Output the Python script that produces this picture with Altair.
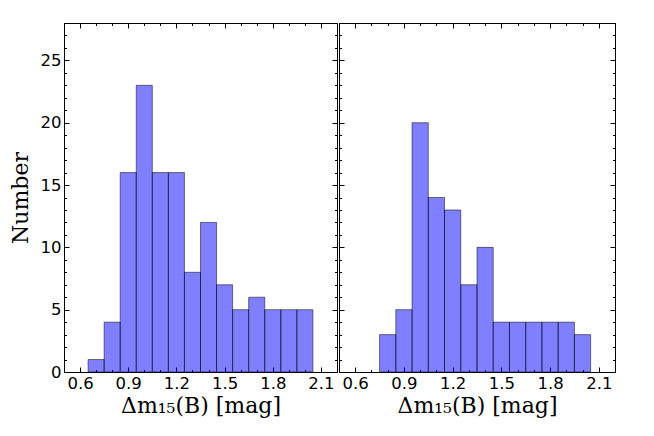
import altair as alt
import pandas as pd

# ---- data ----
left_bin_start = [0.65, 0.75, 0.85, 0.95, 1.05, 1.15, 1.25, 1.35, 1.45, 1.55, 1.65, 1.75, 1.85, 1.95]
left_bin_end = [0.75, 0.85, 0.95, 1.05, 1.15, 1.25, 1.35, 1.45, 1.55, 1.65, 1.75, 1.85, 1.95, 2.05]
left_counts = [1, 4, 16, 23, 16, 16, 8, 12, 7, 5, 6, 5, 5, 5]

right_bin_start = [0.75, 0.85, 0.95, 1.05, 1.15, 1.25, 1.35, 1.45, 1.55, 1.65, 1.75, 1.85, 1.95]
right_bin_end = [0.85, 0.95, 1.05, 1.15, 1.25, 1.35, 1.45, 1.55, 1.65, 1.75, 1.85, 1.95, 2.05]
right_counts = [3, 5, 20, 14, 13, 7, 10, 4, 4, 4, 4, 4, 3]

x_major = [0.6, 0.9, 1.2, 1.5, 1.8, 2.1]
x_minor = [0.5, 0.6, 0.7, 0.8, 0.9, 1.0, 1.1, 1.2, 1.3, 1.4, 1.5, 1.6, 1.7, 1.8, 1.9, 2.0, 2.1, 2.2]
y_major = [0, 5, 10, 15, 20, 25]
y_minor = [0, 1, 2, 3, 4, 5, 6, 7, 8, 9, 10, 11, 12, 13, 14, 15, 16, 17, 18, 19, 20,
           21, 22, 23, 24, 25, 26, 27, 28]
x_domain = [0.5, 2.2]
y_domain = [0, 28]
x_title = "Δm₁₅(B) [mag]"
y_title = "Number"

MAJ = 5
MIN = 2.5


def tick_axis(orient, values, size, labels=False, title=None, fmt=None, title_pad=4):
    kw = dict(
        orient=orient, values=values, tickSize=size, offset=-size,
        domain=False, grid=False, ticks=True, tickColor="black", tickWidth=1,
        labels=labels, title=title, labelFlush=False, titlePadding=title_pad,
    )
    if fmt:
        kw["format"] = fmt
    return alt.Axis(**kw)


def panel(start, end, counts, show_y, width):
    df = pd.DataFrame({"x0": start, "x1": end, "n": counts})
    xs = alt.Scale(domain=x_domain, nice=False, zero=False)
    ys = alt.Scale(domain=y_domain, nice=False, zero=False)

    xb = tick_axis("bottom", x_major, MAJ, labels=True, title=x_title, fmt=".1f")
    yl = tick_axis("left", y_major, MAJ, labels=show_y, title=y_title if show_y else None,
                   fmt="d", title_pad=8)

    bars = alt.Chart(df).mark_rect(
        fill="#0000ff", fillOpacity=0.5, stroke="black", strokeOpacity=0.5, strokeWidth=1
    ).encode(
        x=alt.X("x0:Q", scale=xs, axis=xb),
        x2="x1:Q",
        y=alt.Y("n:Q", scale=ys, axis=yl),
        y2=alt.datum(0),
    )
    maj2 = alt.Chart(df).mark_point(opacity=0).encode(
        x=alt.X("x0:Q", scale=xs, axis=tick_axis("top", x_major, MAJ)),
        y=alt.Y("n:Q", scale=ys, axis=tick_axis("right", y_major, MAJ)),
    )
    min1 = alt.Chart(df).mark_point(opacity=0).encode(
        x=alt.X("x0:Q", scale=xs, axis=tick_axis("bottom", x_minor, MIN)),
        y=alt.Y("n:Q", scale=ys, axis=tick_axis("left", y_minor, MIN)),
    )
    min2 = alt.Chart(df).mark_point(opacity=0).encode(
        x=alt.X("x0:Q", scale=xs, axis=tick_axis("top", x_minor, MIN)),
        y=alt.Y("n:Q", scale=ys, axis=tick_axis("right", y_minor, MIN)),
    )
    return alt.layer(bars, maj2, min1, min2).resolve_axis(
        x="independent", y="independent"
    ).properties(width=width, height=349)


left = panel(left_bin_start, left_bin_end, left_counts, True, 273)
right = panel(right_bin_start, right_bin_end, right_counts, False, 276)

chart = alt.hconcat(left, right, spacing=0).properties(
    padding={"left": 0, "top": 14, "right": 5, "bottom": 5}
).configure_view(
    stroke="black", strokeWidth=1
).configure_axis(
    labelFont="DejaVu Sans", labelFontSize=16.5, labelColor="black", labelPadding=3,
    titleFont="DejaVu Serif", titleFontSize=22, titleFontWeight="normal", titleColor="black",
)

chart.save("out.html", embed_options={"renderer": "svg", "actions": False})
